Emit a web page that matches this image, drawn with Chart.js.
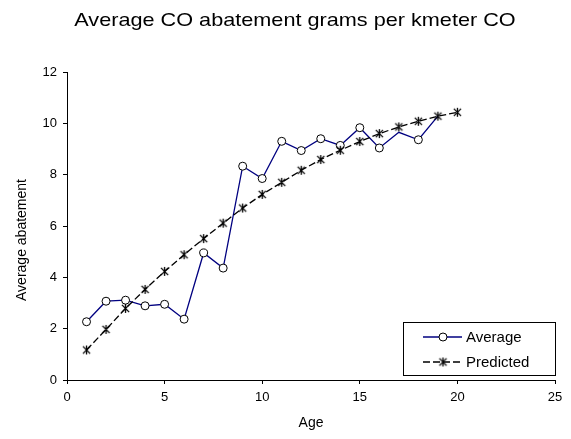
<!DOCTYPE html>
<html>
<head>
<meta charset="utf-8">
<script src="https://cdn.jsdelivr.net/npm/chart.js@4"></script>
<style>
  html, body { margin: 0; padding: 0; background: #fff; }
  #wrap { width: 571px; height: 439px; }
</style>
</head>
<body>
<div id="wrap"><canvas id="chart" width="571" height="439"></canvas></div>
<script>
const ages = [1, 2, 3, 4, 5, 6, 7, 8, 9, 10, 11, 12, 13, 14, 15, 16, 17, 18, 19, 20];
const average = [2.27, 3.07, 3.11, 2.89, 2.95, 2.37, 4.95, 4.36, 8.33, 7.85,
                 9.30, 8.94, 9.40, 9.14, 9.83, 9.04, 9.65, 9.36, 10.28];
const predicted = [1.17, 1.97, 2.79, 3.53, 4.23, 4.88, 5.51, 6.11, 6.70, 7.23,
                   7.70, 8.17, 8.59, 8.95, 9.29, 9.60, 9.86, 10.08, 10.28, 10.43];
const xTicks = [0, 5, 10, 15, 20, 25];
const yTicks = [0, 2, 4, 6, 8, 10, 12];

const FONT = 'Liberation Sans, Arial, sans-serif';

// the circle marker doesn't show at these ages in the original
const hiddenAvgMarkers = [16, 18];

// asterisk marker: X plus a vertical stroke
function makeStar(size) {
  const cv = document.createElement('canvas');
  cv.width = size; cv.height = size;
  const c = cv.getContext('2d');
  const m = size / 2, r = size / 2 - 1;
  c.strokeStyle = '#000';
  c.lineWidth = 1.3;
  c.beginPath();
  c.moveTo(m - r * 0.8, m - r * 0.8); c.lineTo(m + r * 0.8, m + r * 0.8);
  c.moveTo(m + r * 0.8, m - r * 0.8); c.lineTo(m - r * 0.8, m + r * 0.8);
  c.moveTo(m, m - r); c.lineTo(m, m + r);
  c.stroke();
  return cv;
}
const starImg = makeStar(11);

const extras = {
  id: 'extras',
  afterDraw(chart) {
    const c = chart.ctx;
    // title, drawn by hand - the original's lettering is a bit wide
    c.save();
    c.fillStyle = '#000';
    c.font = '19px ' + FONT;
    c.textAlign = 'center';
    c.textBaseline = 'alphabetic';
    c.translate(295, 25.5);
    c.scale(1.14, 1);
    c.fillText('Average CO abatement grams per kmeter CO', 0, 0);
    c.restore();

    // y axis title, a little below centre like the original
    c.save();
    c.fillStyle = '#000';
    c.font = '14px ' + FONT;
    c.textAlign = 'center';
    c.textBaseline = 'middle';
    c.translate(22, 240);
    c.rotate(-Math.PI / 2);
    c.fillText('Average abatement', 0, 0);
    c.restore();

    // legend box
    c.save();
    const x = 403, y = 322, w = 152, h = 53;
    c.fillStyle = '#fff';
    c.fillRect(x, y, w, h);
    c.strokeStyle = '#000';
    c.lineWidth = 1;
    c.strokeRect(x + 0.5, y + 0.5, w, h);
    chart.data.datasets.forEach((ds, i) => {
      const ly = y + 15 + i * 25;
      c.strokeStyle = ds.borderColor;
      c.lineWidth = 1.3;
      c.setLineDash(ds.borderDash || []);
      c.beginPath();
      c.moveTo(x + 20, ly);
      c.lineTo(x + 59, ly);
      c.stroke();
      c.setLineDash([]);
      if (ds.pointStyle === starImg) {
        c.drawImage(starImg, x + 40 - 5.5, ly - 5.5);
      } else {
        c.fillStyle = '#fff';
        c.strokeStyle = '#000';
        c.lineWidth = 1;
        c.beginPath();
        c.arc(x + 40, ly, 4, 0, Math.PI * 2);
        c.fill();
        c.stroke();
      }
      c.fillStyle = '#000';
      c.font = '15px ' + FONT;
      c.textAlign = 'left';
      c.textBaseline = 'middle';
      c.fillText(ds.label, x + 63, ly + 1);
    });
    c.restore();
  }
};

new Chart(document.getElementById('chart'), {
  type: 'line',
  data: {
    labels: ages,
    datasets: [
      {
        label: 'Average',
        data: average.map((v, i) => ({ x: ages[i], y: v })),
        borderColor: '#000080',
        borderWidth: 1.3,
        pointStyle: 'circle',
        pointRadius: ctx => hiddenAvgMarkers.includes(ctx.dataIndex) ? 0 : 4,
        pointBackgroundColor: '#fff',
        pointBorderColor: '#000',
        pointBorderWidth: 1,
        order: 2
      },
      {
        label: 'Predicted',
        data: predicted.map((v, i) => ({ x: ages[i], y: v })),
        borderColor: '#000',
        borderWidth: 1.3,
        borderDash: [7, 3],
        pointStyle: starImg,
        pointRadius: 5,
        order: 1
      }
    ]
  },
  options: {
    responsive: false,
    animation: false,
    layout: { padding: { left: 0, right: 16, top: 72, bottom: 0 } },
    plugins: {
      legend: { display: false },
      tooltip: { enabled: false },
      title: { display: false }
    },
    scales: {
      x: {
        type: 'linear',
        min: 0, max: 25,
        afterBuildTicks: s => { s.ticks = xTicks.map(v => ({ value: v })); },
        afterFit: s => { s.height = 59; },
        border: { display: true, color: '#000', width: 1 },
        grid: { display: true, drawOnChartArea: false, drawTicks: true, tickLength: 4, color: '#000' },
        ticks: { color: '#000', font: { family: FONT, size: 13 }, padding: 6, maxRotation: 0 },
        title: {
          display: true, text: 'Age', color: '#000',
          font: { family: FONT, size: 14 }, padding: { top: 2, bottom: 7 }
        }
      },
      y: {
        min: 0, max: 12,
        afterBuildTicks: s => { s.ticks = yTicks.map(v => ({ value: v })); },
        afterFit: s => { s.width = 67; },
        border: { display: true, color: '#000', width: 1 },
        grid: { display: true, drawOnChartArea: false, drawTicks: true, tickLength: 4, color: '#000' },
        ticks: { color: '#000', font: { family: FONT, size: 13 }, padding: 6 }
      }
    }
  },
  plugins: [extras]
});
</script>
</body>
</html>
